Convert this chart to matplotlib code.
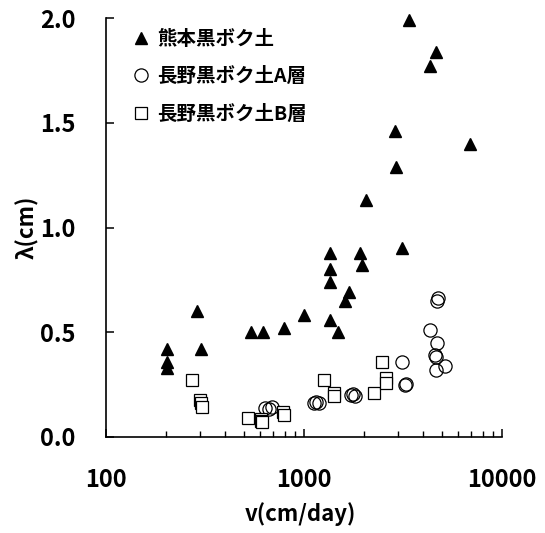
import matplotlib.pyplot as plt
from matplotlib.ticker import FixedLocator, FixedFormatter, LogLocator, NullFormatter

plt.rcParams["font.family"] = ["Noto Sans CJK JP", "DejaVu Sans"]
plt.rcParams["font.weight"] = "bold"

# 熊本黒ボク土
kuma_v = [204, 204, 204, 287, 301, 540, 618, 795, 1000, 1350, 1350, 1350, 1350,
          1490, 1610, 1690, 1920, 1955, 2055, 2880, 2915, 3110, 3390, 4330, 4630, 6890]
kuma_lam = [0.42, 0.36, 0.33, 0.60, 0.42, 0.50, 0.50, 0.52, 0.58, 0.88, 0.80, 0.74, 0.56,
            0.50, 0.65, 0.69, 0.88, 0.82, 1.13, 1.46, 1.29, 0.90, 1.99, 1.77, 1.84, 1.40]

# 長野黒ボク土A層
naga_a_v = [635, 665, 690, 1120, 1150, 1190, 1720, 1760, 1800, 3110, 3240, 3290,
            4330, 4590, 4620, 4650, 4680, 4710, 4770, 5150]
naga_a_lam = [0.14, 0.135, 0.145, 0.16, 0.165, 0.16, 0.20, 0.205, 0.195, 0.36, 0.25, 0.255,
              0.51, 0.39, 0.38, 0.32, 0.65, 0.45, 0.665, 0.34]

# 長野黒ボク土B層
naga_b_v = [271, 300, 302, 304, 523, 604, 610, 614, 786, 792, 1266, 1420, 1425,
            2258, 2466, 2594, 2600]
naga_b_lam = [0.27, 0.175, 0.16, 0.145, 0.09, 0.085, 0.078, 0.072, 0.12, 0.105, 0.27,
              0.21, 0.197, 0.21, 0.36, 0.28, 0.26]

y_ticks = [0.0, 0.5, 1.0, 1.5, 2.0]
y_labels = ["0.0", "0.5", "1.0", "1.5", "2.0"]

fig = plt.figure(figsize=(5.45, 5.33), dpi=100)
ax = fig.add_axes([106 / 545, 1 - 437 / 533, 396 / 545, 419 / 533])

ax.plot(kuma_v, kuma_lam, linestyle="none", marker="^", markersize=9,
        color="black", clip_on=False, label="熊本黒ボク土")
ax.plot(naga_a_v, naga_a_lam, linestyle="none", marker="o", markersize=9.5,
        markerfacecolor="none", markeredgecolor="black", markeredgewidth=0.9,
        label="長野黒ボク土A層")
ax.plot(naga_b_v, naga_b_lam, linestyle="none", marker="s", markersize=9,
        markerfacecolor="white", markeredgecolor="black", markeredgewidth=0.9,
        label="長野黒ボク土B層")

ax.set_xscale("log")
ax.set_xlim(100, 10000)
ax.set_ylim(0, 2.0)

ax.xaxis.set_major_locator(FixedLocator([100, 1000, 10000]))
ax.xaxis.set_major_formatter(FixedFormatter(["100", "1000", "10000"]))
ax.xaxis.set_minor_locator(LogLocator(base=10, subs=range(2, 10)))
ax.xaxis.set_minor_formatter(NullFormatter())
ax.yaxis.set_major_locator(FixedLocator(y_ticks))
ax.yaxis.set_major_formatter(FixedFormatter(y_labels))

for side in ["top", "right"]:
    ax.spines[side].set_visible(False)
for side in ["left", "bottom"]:
    ax.spines[side].set_linewidth(1.2)

ax.tick_params(axis="both", which="major", direction="in", length=6, width=1.1,
               labelsize=17, pad=22)
ax.tick_params(axis="x", which="minor", direction="in", length=4.5, width=1.0)
for lbl in ax.get_xticklabels() + ax.get_yticklabels():
    lbl.set_fontweight("bold")

ax.set_xlabel("v(cm/day)", fontsize=16, fontweight="bold")
ax.set_ylabel("λ(cm)", fontsize=16, fontweight="bold")
ax.xaxis.set_label_coords(0.49, -0.155)
ax.yaxis.set_label_coords(-0.17, 0.5)

ax.legend(loc="upper left", bbox_to_anchor=(0.04, 1.0), frameon=False,
          prop={"size": 14, "weight": "bold"}, handlelength=0.8,
          handletextpad=0.4, labelspacing=0.95, borderaxespad=0.2)

fig.savefig("out.png", dpi=100)
